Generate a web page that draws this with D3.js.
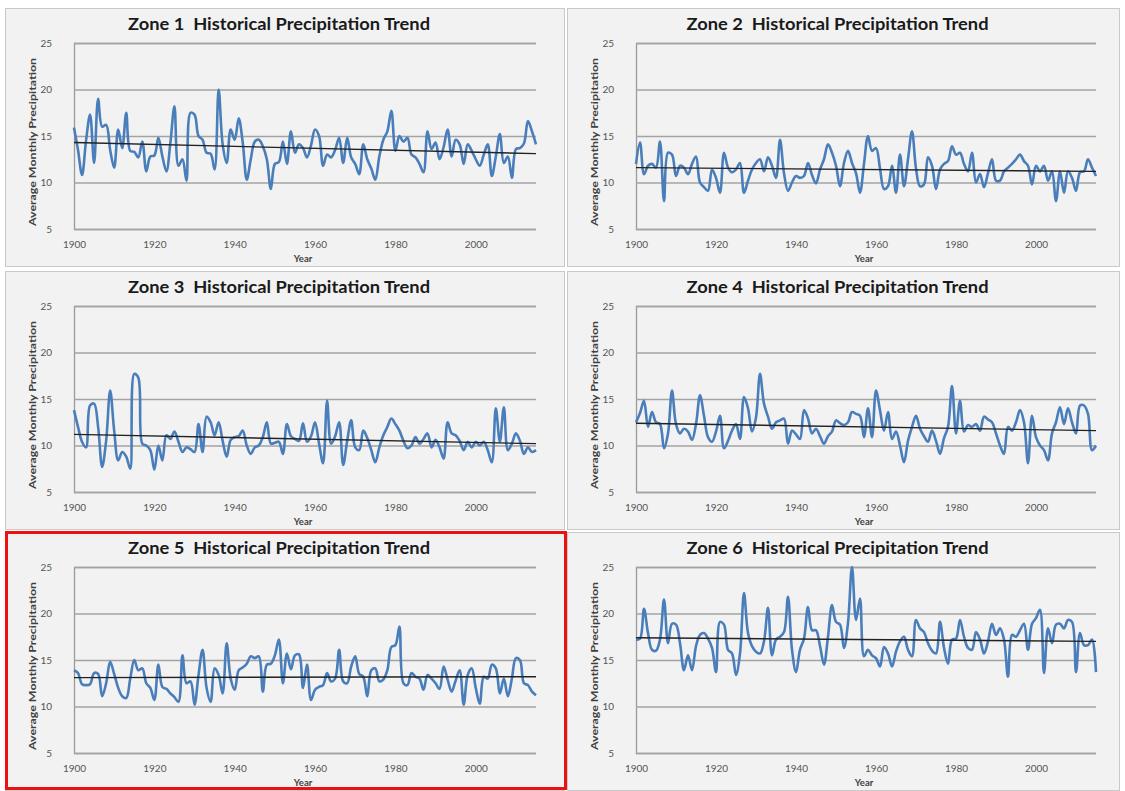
<!DOCTYPE html>
<html>
<head>
<meta charset="utf-8">
<script src="https://cdn.jsdelivr.net/npm/d3@7/dist/d3.min.js"></script>
<style>
  body { margin: 0; background: #ffffff; }
  svg { display: block; }
</style>
</head>
<body>
<svg id="chart" width="1125" height="791"></svg>
<script>
// Annual average monthly precipitation by zone, 1900–2015
const years = d3.range(1900, 2016);

const zone1 = [
  15.9, 13.5, 10.8, 14.5, 17.3, 12.1, 19.0, 16.0, 16.2, 13.5,
  11.6, 15.7, 13.7, 17.5, 13.4, 13.3, 12.7, 14.4, 11.2, 12.8,
  12.9, 14.8, 12.8, 11.2, 14.3, 18.2, 11.8, 12.5, 10.2, 17.5,
  17.3, 15.0, 14.6, 13.2, 13.1, 11.4, 20.0, 14.1, 12.1, 15.7,
  14.6, 16.9, 14.3, 10.3, 12.5, 14.4, 14.6, 13.9, 12.5, 9.3,
  12.0, 12.2, 14.4, 12.0, 15.5, 13.2, 14.1, 13.7, 12.7, 14.0,
  15.7, 15.0, 11.8, 13.0, 12.7, 13.5, 14.8, 12.1, 14.8, 12.7,
  12.0, 10.9, 14.1, 12.5, 11.5, 10.3, 12.8, 14.6, 15.5, 17.7,
  13.4, 15.0, 14.4, 14.8, 13.0, 12.7, 12.0, 11.1, 15.5, 13.6,
  14.3, 12.5, 13.8, 15.7, 12.8, 14.6, 14.1, 12.0, 14.1, 13.4,
  12.5, 11.8, 13.0, 14.1, 10.7, 12.8, 15.2, 12.1, 12.8, 10.5,
  13.6, 13.7, 14.2, 16.6, 15.5, 14.1
];

const zone2 = [
  12.0, 14.3, 10.9, 11.8, 12.0, 11.6, 14.4, 8.0, 13.2, 13.0,
  10.7, 11.8, 11.6, 10.9, 12.0, 12.8, 10.0, 9.5, 9.1, 11.4,
  10.5, 8.9, 13.2, 11.6, 11.1, 11.4, 12.1, 8.9, 10.2, 11.4,
  12.1, 12.5, 11.2, 12.7, 11.8, 10.5, 14.6, 11.0, 9.1, 10.0,
  10.7, 10.5, 10.7, 12.1, 10.8, 9.9, 11.4, 12.5, 14.1, 13.2,
  11.8, 9.6, 12.1, 13.4, 12.1, 11.0, 8.9, 12.0, 15.0, 13.4,
  13.7, 11.5, 9.3, 9.6, 11.8, 8.9, 13.0, 9.6, 12.5, 15.5,
  11.5, 9.6, 9.8, 12.7, 11.8, 9.3, 11.4, 12.0, 12.3, 13.9,
  13.0, 13.2, 12.0, 11.2, 13.2, 10.0, 10.9, 9.5, 11.0, 12.5,
  10.2, 10.2, 11.2, 11.6, 12.0, 12.5, 13.0, 12.3, 11.8, 9.8,
  11.8, 11.2, 11.8, 10.2, 11.2, 8.0, 11.2, 8.9, 11.2, 10.5,
  9.1, 11.1, 11.2, 12.5, 11.6, 10.7
];

const zone3 = [
  13.8, 12.0, 10.4, 9.8, 14.3, 14.5, 12.0, 7.7, 10.5, 15.9,
  11.6, 8.4, 9.3, 8.8, 7.5, 17.7, 17.3, 10.2, 10.0, 9.5,
  7.4, 10.0, 8.4, 11.1, 10.7, 11.5, 10.4, 9.3, 9.8, 9.6,
  9.3, 12.3, 9.3, 13.1, 12.5, 11.1, 12.5, 10.5, 8.8, 10.6,
  10.9, 11.0, 11.6, 10.0, 9.1, 9.8, 10.0, 10.9, 12.5, 10.2,
  10.3, 10.4, 9.1, 12.3, 11.0, 10.7, 10.5, 12.4, 10.4, 11.0,
  12.5, 10.2, 8.1, 14.8, 10.2, 11.0, 12.5, 7.9, 10.5, 12.7,
  9.8, 9.5, 11.6, 10.8, 9.5, 8.2, 9.8, 11.1, 12.0, 12.9,
  12.3, 11.6, 10.5, 9.7, 10.0, 10.9, 10.2, 10.7, 11.3, 9.8,
  10.6, 9.8, 8.6, 12.5, 11.3, 11.1, 10.5, 9.5, 10.4, 9.8,
  10.4, 10.0, 10.4, 9.5, 8.2, 14.0, 10.4, 14.1, 9.5, 10.2,
  11.3, 10.5, 9.1, 9.8, 9.3, 9.5
];

const zone4 = [
  12.5, 13.5, 14.8, 12.0, 13.6, 12.5, 12.3, 9.7, 11.3, 15.9,
  12.3, 11.3, 11.8, 11.5, 10.6, 12.3, 15.4, 13.2, 10.9, 10.4,
  11.5, 13.2, 9.7, 10.5, 11.6, 12.3, 10.7, 15.2, 14.0, 11.5,
  13.0, 17.7, 14.5, 13.1, 11.8, 12.5, 12.7, 12.9, 10.2, 11.6,
  11.2, 10.7, 13.8, 12.9, 11.3, 11.8, 11.0, 10.2, 11.0, 11.5,
  12.7, 12.4, 12.2, 12.5, 13.6, 13.4, 13.2, 10.9, 14.0, 10.9,
  15.9, 13.8, 11.6, 13.6, 10.7, 11.5, 10.0, 8.2, 10.5, 12.0,
  13.2, 11.8, 11.0, 10.4, 11.6, 10.5, 9.1, 10.8, 12.0, 16.4,
  11.3, 14.8, 11.5, 12.2, 12.0, 12.3, 11.6, 13.1, 12.8, 12.5,
  11.3, 10.0, 9.1, 12.0, 11.6, 12.5, 13.8, 12.5, 8.1, 13.2,
  10.9, 10.0, 9.5, 8.4, 11.3, 12.5, 14.1, 12.3, 14.0, 12.5,
  11.3, 14.3, 14.3, 13.4, 9.5, 10.0
];

const zone5 = [
  13.9, 13.6, 12.4, 12.3, 12.4, 13.6, 13.5, 11.1, 12.5, 14.8,
  13.5, 12.0, 11.1, 10.9, 13.0, 15.0, 13.9, 14.1, 12.5, 12.0,
  10.7, 14.5, 12.1, 11.9, 11.4, 11.0, 10.5, 15.5, 12.5, 12.7,
  10.2, 13.4, 16.1, 12.0, 10.5, 14.1, 13.4, 11.4, 16.8, 13.0,
  11.8, 13.9, 14.2, 14.6, 15.4, 15.2, 15.4, 11.6, 14.5, 14.6,
  15.5, 17.2, 12.5, 15.7, 14.0, 15.5, 15.6, 12.0, 14.5, 10.7,
  11.8, 12.1, 12.3, 13.6, 12.7, 13.0, 16.1, 12.7, 12.5, 14.3,
  15.4, 13.5, 13.2, 11.1, 13.9, 14.1, 12.7, 12.9, 13.9, 16.4,
  16.6, 18.6, 12.5, 12.3, 13.6, 13.2, 13.0, 11.8, 13.4, 13.0,
  12.5, 11.9, 14.3, 12.9, 11.6, 12.8, 13.9, 10.2, 13.4, 14.1,
  12.0, 10.3, 13.2, 13.0, 14.5, 14.1, 11.4, 13.0, 11.1, 13.0,
  15.2, 15.0, 12.5, 12.3, 11.6, 11.2
];

const zone6 = [
  17.2, 17.3, 20.5, 17.9, 16.1, 16.0, 17.2, 21.5, 16.8, 18.9,
  18.8, 16.8, 13.9, 15.5, 13.9, 16.5, 17.7, 17.9, 17.3, 16.3,
  13.7, 19.1, 18.8, 16.1, 15.7, 13.4, 15.7, 22.2, 17.9, 16.5,
  15.9, 15.7, 17.0, 20.6, 15.5, 17.2, 17.5, 18.0, 21.8, 16.1,
  13.7, 16.1, 17.3, 20.7, 18.2, 18.2, 16.5, 14.5, 17.5, 20.9,
  19.1, 18.8, 16.3, 19.0, 25.0, 19.3, 21.6, 15.4, 16.1, 15.5,
  15.2, 14.3, 16.4, 15.7, 14.3, 15.9, 17.0, 17.5, 16.1, 15.4,
  19.3, 18.4, 18.0, 16.8, 16.0, 15.7, 19.1, 16.3, 14.6, 17.2,
  17.3, 19.3, 17.5, 16.3, 16.1, 18.0, 17.2, 15.7, 17.0, 18.9,
  17.7, 18.4, 17.2, 13.2, 17.7, 17.5, 18.2, 18.9, 16.1, 18.9,
  19.5, 20.4, 13.6, 18.4, 16.8, 18.8, 18.9, 18.4, 19.3, 19.1,
  13.7, 17.9, 16.6, 16.6, 17.2, 13.7
];

// Linear trend values at 1900 and at 2015 for each zone
const trendStart = [14.3, 11.6, 11.2, 12.4, 13.1, 17.4];
const trendEnd   = [13.1, 11.2, 10.2, 11.6, 13.2, 17.0];

const zoneLabels = ["Zone 1", "Zone 2", "Zone 3", "Zone 4", "Zone 5", "Zone 6"];
const titleSuffix = "Historical Precipitation Trend";
const yTicks = [5, 10, 15, 20, 25];
const xTicks = [1900, 1920, 1940, 1960, 1980, 2000];
const yTitle = "Average Monthly Precipitation";
const xTitle = "Year";

const series = [zone1, zone2, zone3, zone4, zone5, zone6];

const svg = d3.select("#chart");
const FONT = "Lato, 'Open Sans', 'DejaVu Sans', sans-serif";

// Panel grid: two columns, three rows
const colLeft = [5, 567];
const colWidth = [560, 553];
const rowTop = [8, 271, 532];
const rowHeight = 259;
const plotLeftOff = 69;
const plotWidth = [462, 460];
const plotTopOff = 35;
const plotHeight = 186;

series.forEach((values, i) => {
  const col = i % 2, row = Math.floor(i / 2);
  const px = colLeft[col], py = rowTop[row];
  const pw = colWidth[col];

  const g = svg.append("g").attr("transform", `translate(${px},${py})`);

  // panel background
  g.append("rect")
    .attr("x", 0.5).attr("y", 0.5)
    .attr("width", pw - 1).attr("height", rowHeight - 1)
    .attr("fill", "#f2f2f2")
    .attr("stroke", "#c9c9c9")
    .attr("stroke-width", 1);

  const left = plotLeftOff, top = plotTopOff;
  const w = plotWidth[col], h = plotHeight;

  const x = d3.scaleLinear().domain([1900, 2015]).range([left, left + w]);
  const y = d3.scaleLinear().domain([5, 25]).range([top + h, top]);

  // horizontal gridlines with y tick labels
  const yAxis = g.append("g")
    .attr("transform", `translate(${left},0)`)
    .call(d3.axisLeft(y).tickValues(yTicks).tickSize(-w).tickPadding(22));
  yAxis.select(".domain").attr("stroke", "#9a9a9a").attr("stroke-width", 1.3);
  yAxis.selectAll(".tick line").attr("stroke", "#a3a3a3").attr("stroke-width", 1.4);
  yAxis.selectAll(".tick text")
    .attr("fill", "#555").attr("font-family", FONT).attr("font-size", 10);

  // x axis labels
  const xAxis = g.append("g")
    .attr("transform", `translate(0,${top + h})`)
    .call(d3.axisBottom(x).tickValues(xTicks).tickSize(0).tickPadding(12)
      .tickFormat(d3.format("d")));
  xAxis.select(".domain").remove();
  xAxis.selectAll(".tick text")
    .attr("fill", "#555").attr("font-family", FONT).attr("font-size", 10);

  // axis titles
  g.append("text")
    .attr("x", left + w / 2 - 2).attr("y", top + h + 33)
    .attr("text-anchor", "middle")
    .attr("font-family", FONT).attr("font-size", 9.5).attr("font-weight", 700)
    .attr("fill", "#404040")
    .text(xTitle);

  g.append("text")
    .attr("transform", `translate(${left - 38},${top + h / 2 + 6}) rotate(-90)`)
    .attr("text-anchor", "middle")
    .attr("font-family", FONT).attr("font-size", 9.5).attr("font-weight", 700)
    .attr("fill", "#404040")
    .attr("textLength", 168)
    .attr("lengthAdjust", "spacingAndGlyphs")
    .text(yTitle);

  // chart title
  g.append("text")
    .attr("x", pw / 2 - 6).attr("y", top - 13)
    .attr("text-anchor", "middle")
    .attr("font-family", FONT).attr("font-size", 17).attr("font-weight", 700)
    .attr("fill", "#1a1a1a")
    .attr("xml:space", "preserve")
    .attr("textLength", 302)
    .attr("lengthAdjust", "spacingAndGlyphs")
    .text(zoneLabels[i] + "  " + titleSuffix);

  // precipitation series
  const line = d3.line()
    .x((d, k) => x(years[k]))
    .y(d => y(d))
    .curve(d3.curveCatmullRom.alpha(0.5));

  g.append("path")
    .datum(values)
    .attr("fill", "none")
    .attr("stroke", "#4a7ebb")
    .attr("stroke-width", 2.6)
    .attr("stroke-linejoin", "round")
    .attr("d", line);

  // linear trend
  g.append("line")
    .attr("x1", x(1900)).attr("y1", y(trendStart[i]))
    .attr("x2", x(2015)).attr("y2", y(trendEnd[i]))
    .attr("stroke", "#222")
    .attr("stroke-width", 1.4);
});

// highlight frame around Zone 5
svg.append("rect")
  .attr("x", colLeft[0] + 1.5).attr("y", rowTop[2] + 0.5)
  .attr("width", colWidth[0] - 1).attr("height", rowHeight - 3)
  .attr("fill", "none")
  .attr("stroke", "#ee1111")
  .attr("stroke-width", 3);
</script>
</body>
</html>
